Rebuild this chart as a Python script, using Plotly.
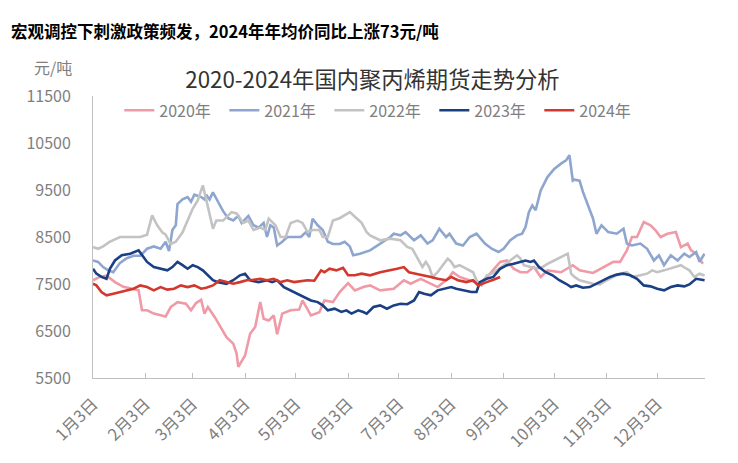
import pandas as pd
import plotly.graph_objects as go

# 日期按“距1月3日的天数”记录，数值单位：元/吨
d2020 = [0, 4, 8, 13, 18, 24, 27, 29, 32, 36, 40, 43, 46, 50, 55, 58, 61, 64, 66, 68,
         72, 76, 79, 83, 85, 86, 87, 90, 93, 96, 99, 101, 104, 107, 109, 112, 117, 122,
         124, 129, 134, 137, 142, 146, 151, 155, 160,
         164, 170, 178, 184, 188, 194, 198, 204, 210, 213, 217, 223, 229, 235, 241, 245,
         249, 253, 257, 261, 265, 269, 277, 284, 288, 296, 304, 308, 312, 316, 319, 322,
         326, 330, 333, 336, 340, 345, 348, 352, 354, 357, 361]
v2020 = [7580, 7650, 7680, 7540, 7440, 7380, 7365, 6940, 6940, 6870, 6830, 6810, 7010,
         7115, 7080, 6940, 7095, 7165, 6870, 7010, 6800, 6550, 6370, 6230, 6020, 5735,
         5805, 5980, 6440, 6585, 7115, 6760, 6725, 6830, 6430, 6870, 6940, 6955, 7150,
         6830, 6900, 7150, 7115, 7330, 7520, 7365, 7435,
         7470, 7365, 7400, 7580, 7505, 7610, 7540, 7435, 7610, 7750, 7650, 7580, 7505,
         7720, 7970, 8000, 7825, 7750, 7750, 7860, 7650, 7790, 7750, 7900, 7790, 7735,
         7900, 7970, 7970, 8215, 8500, 8500, 8820, 8750, 8640, 8500, 8570, 8605, 8285,
         8360, 8215, 8145, 7930]

d2021 = [0, 3, 6, 9, 12, 16, 20, 24, 28, 32, 36, 40, 43, 45, 47, 49, 50, 53, 56, 58, 60,
         64, 66, 67, 69, 71, 74, 77, 80, 83, 86, 88, 92, 95, 98, 101, 103, 105, 107, 109,
         112, 115, 119, 123, 126, 128, 130, 133, 136, 139, 142, 146, 149, 152, 154, 158,
         164, 170, 176, 178, 182, 185, 190, 194, 198, 201, 205, 209, 211, 215, 219, 223,
         227, 232, 236, 240, 243, 247, 251, 254, 256, 258, 260, 262, 265, 269, 273, 277,
         280, 282, 284, 285, 288, 290, 292, 296, 298, 301, 305, 310, 314, 316, 319, 324,
         328, 332, 335, 338, 342, 346, 350, 353, 357, 359, 362]
v2021 = [8000, 7970, 7860, 7790, 7750, 7950, 8050, 8100, 8100, 8250, 8300, 8250, 8400,
         8200, 8650, 8750, 9200, 9300, 9350, 9250, 9400, 9350, 9300, 9400, 9300, 9450,
         9250, 9050, 8900, 8850, 8950, 8800, 8950, 8750, 8700, 8800, 8500, 8750, 8700,
         8320, 8400, 8500, 8500, 8500, 8600, 8500, 8890, 8750, 8650, 8400, 8350, 8350,
         8400, 8300, 8110, 8145, 8215, 8360, 8500, 8570, 8535, 8605, 8430, 8535, 8360,
         8430, 8675, 8500, 8570, 8360, 8320, 8500, 8570, 8360, 8250, 8180, 8250, 8430,
         8535, 8570, 8710, 9030, 9170, 9070, 9490, 9775, 9950, 10060, 10130, 10240, 9700,
         9720, 9700, 9460, 9280, 8890, 8570, 8750, 8605, 8570, 8675, 8360, 8320, 8360,
         8250, 8000, 8110, 7900, 8110, 8000, 8145, 8075, 8180, 7970, 8145]

d2022 = [0, 3, 6, 10, 13, 16, 24, 28, 32, 35, 38, 41, 43, 46, 49, 53, 56, 59, 62, 65, 67,
         68, 71, 73, 77, 82, 85, 89, 92, 95, 99, 102, 104, 108, 111, 114, 117, 121, 124,
         127, 130, 134, 136, 139, 142, 146, 152, 156, 159, 162, 164, 170, 176, 182, 186,
         189, 192, 195, 197, 199, 201, 204, 207, 210, 212, 214, 217, 221, 225, 227, 230,
         233, 236, 239, 243, 247, 251, 253, 255, 259, 263, 266, 269, 273, 277, 281, 283,
         285, 288, 292, 296, 300, 304, 308, 312, 316, 319, 324, 328, 331, 334, 338, 342,
         345, 348, 351, 353, 356, 359, 362]
v2022 = [8285, 8250, 8300, 8400, 8450, 8500, 8500, 8500, 8550, 8960, 8750, 8600, 8550,
         8350, 8400, 8600, 8850, 9100, 9280, 9600, 9300, 9150, 8675, 8850, 8850, 9030,
         9000, 8800, 8850, 8650, 8700, 8650, 8890, 8750, 8500, 8500, 8800, 8850, 8800,
         8605, 8650, 8650, 8500, 8500, 8850, 8900, 9030, 8900, 8800, 8600, 8535, 8430,
         8465, 8430, 8290, 8250, 8040, 7860, 7970, 7860, 7650, 7750, 7900, 8040, 7970,
         7860, 7900, 7830, 7750, 7580, 7470, 7680, 7720, 7790, 7900, 8000, 8110, 8040,
         7900, 7860, 7830, 7860, 7930, 8000, 8075, 8145, 7720, 7650, 7580, 7540, 7505,
         7490, 7580, 7650, 7720, 7750, 7650, 7685, 7720, 7790, 7750, 7790, 7830, 7860,
         7900, 7830, 7790, 7650, 7720, 7680]

d2023 = [0, 2, 5, 8, 10, 13, 17, 22, 27, 29, 32, 36, 40, 44, 47, 50, 53, 56, 59, 62, 65,
         67, 71, 74, 79, 83, 87, 90, 93, 98, 103, 106, 109, 113, 117, 121, 125, 129, 133,
         136, 139, 143, 147, 150, 153, 157, 160, 162, 166, 170, 174, 178, 182, 186, 190,
         193, 196, 200, 204, 208, 212, 215, 219, 224, 227, 229, 233, 237, 241, 245, 249,
         253, 256, 259, 261, 264, 268, 272, 276, 280, 283, 286, 290, 294, 298, 302, 306,
         310, 314, 318, 322, 326, 330, 334, 338, 342, 346, 350, 353, 357, 360, 362]
v2023 = [7825, 7720, 7650, 7610, 7825, 8000, 8110, 8145, 8215, 8110, 7970, 7860, 7825,
         7790, 7860, 7970, 7900, 7825, 7900, 7860, 7790, 7720, 7580, 7540, 7505, 7580,
         7685, 7720, 7580, 7540, 7580, 7540, 7580, 7435, 7365, 7295, 7220, 7150, 7115,
         7045, 6940, 6975, 6905, 6940, 6870, 6940, 6905, 6870, 7010, 7045, 6975, 7045,
         7080, 7070, 7150, 7330, 7295, 7260, 7365, 7400, 7435, 7400, 7365, 7330, 7330,
         7540, 7610, 7650, 7825, 7900, 7930, 7970, 8000, 7970, 8000, 7860, 7750, 7685,
         7580, 7505, 7435, 7470, 7420, 7435, 7505, 7580, 7650, 7700, 7720, 7685, 7610,
         7470, 7450, 7400, 7365, 7435, 7470, 7450, 7490, 7610, 7600, 7580]

d2024 = [0, 2, 5, 8, 12, 16, 20, 24, 28, 32, 36, 40, 44, 48, 52, 56, 60, 64, 67, 71, 75,
         79, 83, 87, 91, 95, 99, 103, 107, 111, 115, 119, 123, 127, 131, 135, 137, 140,
         144, 148, 151, 155, 159, 164, 170, 176, 180, 184, 187, 191, 196, 200, 204, 209,
         212, 216, 221, 225, 228, 230, 233, 237, 241]
v2024 = [7505, 7470, 7330, 7260, 7295, 7330, 7365, 7400, 7470, 7435, 7365, 7435, 7380,
         7400, 7470, 7435, 7470, 7400, 7420, 7470, 7580, 7540, 7505, 7540, 7580, 7590,
         7610, 7580, 7610, 7540, 7580, 7540, 7555, 7580, 7570, 7790, 7750, 7825, 7790,
         7845, 7685, 7685, 7720, 7685, 7750, 7790, 7825, 7860, 7750, 7720, 7685, 7650,
         7610, 7580, 7650, 7580, 7540, 7580, 7470, 7505, 7540, 7590, 7650]

y_ticks = [5500, 6500, 7500, 8500, 9500, 10500, 11500]

series = [
    ("2020年", d2020, v2020, "#EF9AA6"),
    ("2021年", d2021, v2021, "#8EA6CF"),
    ("2022年", d2022, v2022, "#C3C3C3"),
    ("2023年", d2023, v2023, "#1A3F84"),
    ("2024年", d2024, v2024, "#D3372D"),
]

base = pd.Timestamp("2023-01-03")
months = list(range(1, 13))
tick_vals = [pd.Timestamp(2023, m, 3) for m in months]
tick_text = [f"{m}月3日" for m in months]

fig = go.Figure()
for name, d, v, color in series:
    x = [base + pd.Timedelta(days=k) for k in d]
    fig.add_trace(go.Scatter(x=x, y=v, name=name, mode="lines",
                             line=dict(color=color, width=2.6)))

# 页面 body 默认有 8px 外边距，这里的边距已扣除
L, T, PW, PH = 85, 88, 612, 282
gray = "#7F7F7F"
fig.update_layout(
    width=738, height=463,
    margin=dict(l=L, r=738 - L - PW, t=T, b=463 - T - PH, autoexpand=False),
    paper_bgcolor="white", plot_bgcolor="white",
    font=dict(family="Noto Sans CJK SC, Noto Sans, sans-serif", color=gray, size=15),
    title=dict(text="2020-2024年国内聚丙烯期货走势分析", x=364.5 / 738, xanchor="center",
               y=1 - 72 / 463, yanchor="middle",
               font=dict(size=22.3, color="#333333")),
    legend=dict(orientation="h", x=0.043, xanchor="left", y=0.949, yanchor="middle",
                font=dict(size=16, color=gray), bgcolor="rgba(0,0,0,0)",
                entrywidth=60, entrywidthmode="pixels"),
    showlegend=True,
)
fig.update_xaxes(
    range=[base, pd.Timestamp("2023-12-31 06:00")], automargin=False,
    tickmode="array", tickvals=tick_vals, ticktext=tick_text, tickangle=-45,
    ticks="inside", ticklen=5, tickcolor="#BFBFBF", ticklabelstandoff=9,
    showline=True, linecolor="#BFBFBF", linewidth=1, showgrid=False, zeroline=False,
    tickfont=dict(size=16.5, color=gray),
)
fig.update_yaxes(
    range=[5500, 11500], automargin=False,
    tickmode="array", tickvals=y_ticks, ticktext=[str(t) for t in y_ticks],
    showline=True, linecolor="#BFBFBF", linewidth=1, showgrid=False, zeroline=False,
    ticks="", ticklabelstandoff=18, tickfont=dict(size=16, color=gray),
)
fig.add_annotation(text="<b>宏观调控下刺激政策频发，2024年年均价同比上涨73元/吨</b>",
                   xref="paper", yref="paper", x=(1 - L) / PW, y=1 + (T - 23) / PH,
                   xanchor="left", yanchor="middle", showarrow=False,
                   font=dict(size=16.5, color="#000000", family="Noto Sans CJK SC"))
fig.add_annotation(text="元/吨", xref="paper", yref="paper",
                   x=(45 - L) / PW, y=1 + (T - 59) / PH,
                   xanchor="center", yanchor="middle", showarrow=False,
                   font=dict(size=16, color=gray))

fig.write_html("out.html")
